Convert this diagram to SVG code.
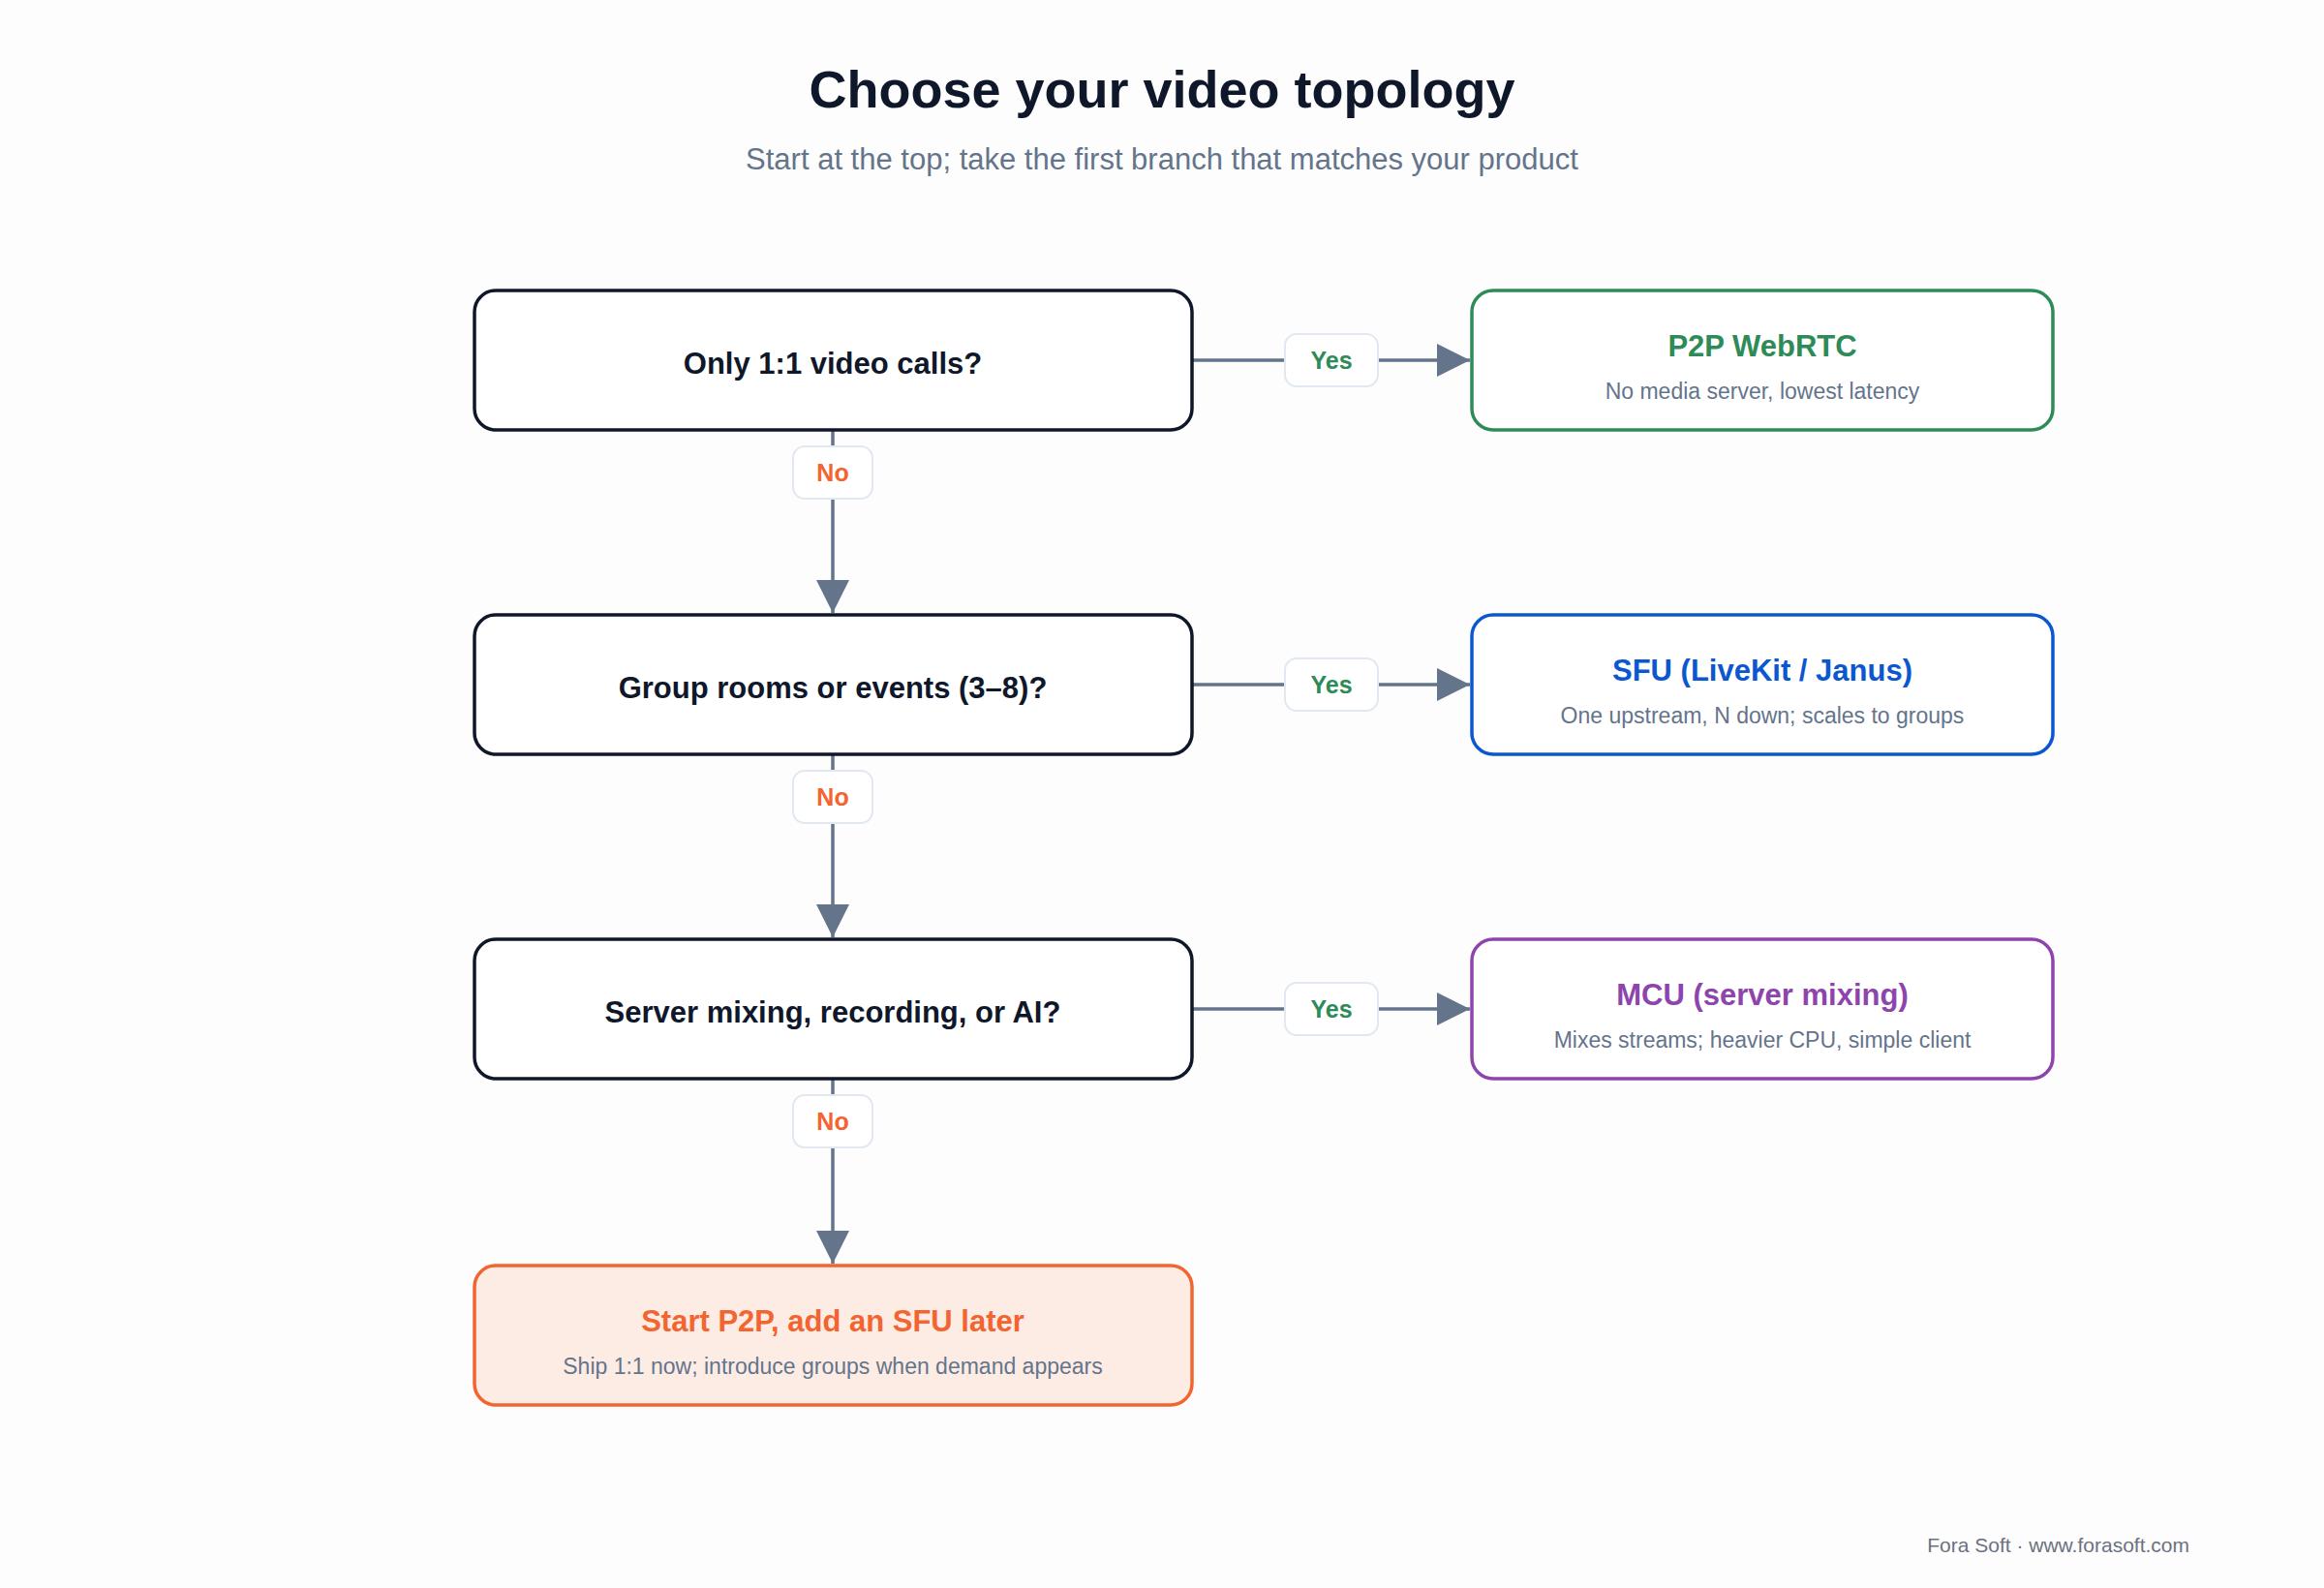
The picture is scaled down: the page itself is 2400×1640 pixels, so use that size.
<svg xmlns="http://www.w3.org/2000/svg" width="2400" height="1640" viewBox="0 0 2400 1640">
<style>
text{font-family:"Liberation Sans",Arial,sans-serif;text-anchor:middle}
.t{font-size:54px;font-weight:bold;fill:#0f172a}
.st{font-size:31px;fill:#64748b}
.q rect{fill:#fff;stroke:#0f172a;stroke-width:3.5}
.q text{font-size:31px;font-weight:bold;fill:#0f172a}
.a rect{fill:#fff;stroke-width:3.5}
.h{font-size:31px;font-weight:bold}
.s{font-size:23px;fill:#64748b}
.pill{fill:#fff;stroke:#e2e8f0;stroke-width:2}
.yes{font-size:25px;font-weight:bold;fill:#2e8b57}
.no{font-size:25px;font-weight:bold;fill:#f26430}
.ln{stroke:#64748b;stroke-width:3.5;fill:none}
</style>
<defs><marker id="ar" markerWidth="10" markerHeight="10" refX="9" refY="5" orient="auto" markerUnits="userSpaceOnUse" viewBox="0 0 10 10"><path d="M0,0L10,5L0,10z" fill="#64748b"/></marker>
<marker id="arr" markerWidth="34" markerHeight="34" refX="34" refY="17" orient="auto" markerUnits="userSpaceOnUse"><path d="M0,0L34,17L0,34z" fill="#64748b"/></marker></defs>
<rect width="2400" height="1640" fill="#fdfdfd"/>
<text class="t" x="1200" y="111">Choose your video topology</text>
<text class="st" x="1200" y="175">Start at the top; take the first branch that matches your product</text>
<g id="connectors">
<path class="ln" d="M1231,372H1518" marker-end="url(#arr)"/>
<path class="ln" d="M1231,707H1518" marker-end="url(#arr)"/>
<path class="ln" d="M1231,1042H1518" marker-end="url(#arr)"/>
<path class="ln" d="M860,444V633" marker-end="url(#arr)"/>
<path class="ln" d="M860,779V968" marker-end="url(#arr)"/>
<path class="ln" d="M860,1114V1305" marker-end="url(#arr)"/>
<rect class="pill" x="1327" y="345" width="96" height="54" rx="12"/><text class="yes" x="1375" y="381">Yes</text>
<rect class="pill" x="1327" y="680" width="96" height="54" rx="12"/><text class="yes" x="1375" y="716">Yes</text>
<rect class="pill" x="1327" y="1015" width="96" height="54" rx="12"/><text class="yes" x="1375" y="1051">Yes</text>
<rect class="pill" x="819" y="461" width="82" height="54" rx="12"/><text class="no" x="860" y="497">No</text>
<rect class="pill" x="819" y="796" width="82" height="54" rx="12"/><text class="no" x="860" y="832">No</text>
<rect class="pill" x="819" y="1131" width="82" height="54" rx="12"/><text class="no" x="860" y="1167">No</text>
</g>
<g id="q1" class="q"><rect x="490" y="300" width="741" height="144" rx="22"/><text x="860" y="386">Only 1:1 video calls?</text></g>
<g id="q2" class="q"><rect x="490" y="635" width="741" height="144" rx="22"/><text x="860" y="721">Group rooms or events (3–8)?</text></g>
<g id="q3" class="q"><rect x="490" y="970" width="741" height="144" rx="22"/><text x="860" y="1056">Server mixing, recording, or AI?</text></g>
<g id="p2p" class="a"><rect x="1520" y="300" width="600" height="144" rx="22" stroke="#2e8b57"/><text class="h" x="1820" y="368" fill="#2e8b57">P2P WebRTC</text><text class="s" x="1820" y="412">No media server, lowest latency</text></g>
<g id="sfu" class="a"><rect x="1520" y="635" width="600" height="144" rx="22" stroke="#0b57d0"/><text class="h" x="1820" y="703" fill="#0b57d0">SFU (LiveKit / Janus)</text><text class="s" x="1820" y="747">One upstream, N down; scales to groups</text></g>
<g id="mcu" class="a"><rect x="1520" y="970" width="600" height="144" rx="22" stroke="#8e44ad"/><text class="h" x="1820" y="1038" fill="#8e44ad">MCU (server mixing)</text><text class="s" x="1820" y="1082">Mixes streams; heavier CPU, simple client</text></g>
<g id="start"><rect x="490" y="1307" width="741" height="144" rx="22" fill="#fdece4" stroke="#f26430" stroke-width="3.5"/><text class="h" x="860" y="1375" fill="#f26430">Start P2P, add an SFU later</text><text class="s" x="860" y="1419">Ship 1:1 now; introduce groups when demand appears</text></g>
<text x="2261" y="1603" style="font-size:21px;fill:#6b7280;text-anchor:end">Fora Soft · www.forasoft.com</text>
</svg>
